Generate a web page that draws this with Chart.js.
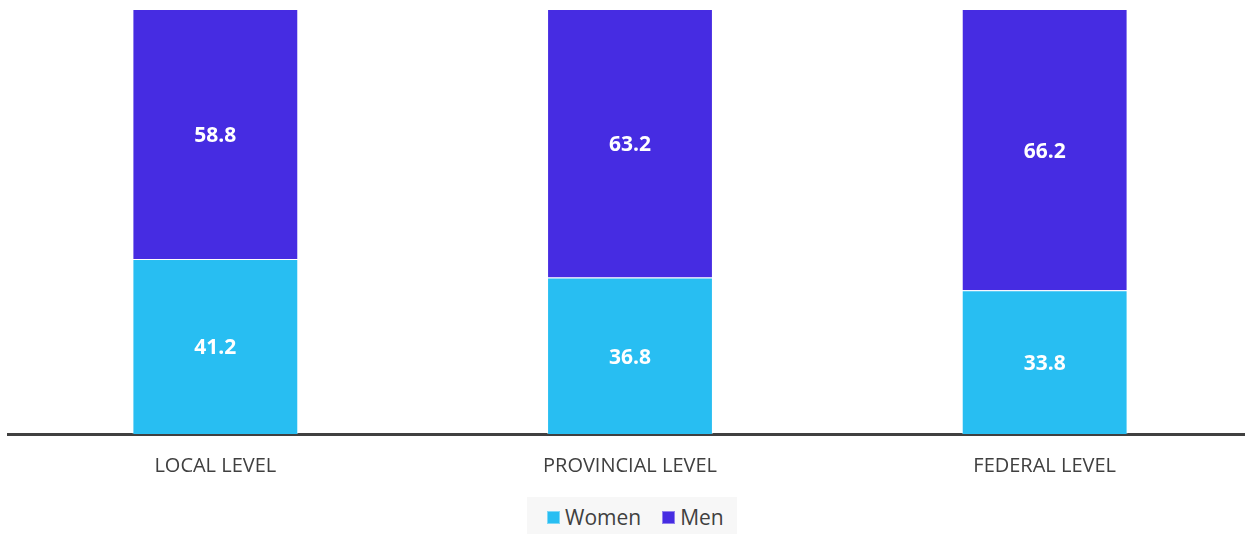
<!DOCTYPE html>
<html>
<head>
<meta charset="utf-8">
<script src="https://cdn.jsdelivr.net/npm/chart.js@4.4.0/dist/chart.umd.min.js"></script>
<style>
  html, body { margin: 0; padding: 0; background: #fff; overflow: hidden; }
  #wrap { position: relative; width: 1252px; height: 534px; }
  #legend {
    position: absolute; left: 527px; top: 497px; width: 210px; height: 37px;
    background: #f7f7f7; display: flex; align-items: center; padding: 3px 0 0 20px;
    box-sizing: border-box; font-family: "Open Sans", sans-serif; font-size: 21px; color: #404040;
  }
  #legend .sw { width: 13px; height: 13px; margin-right: 5px; box-sizing: border-box; border: 1px solid rgba(255,255,255,0.4); }
  #legend .item { display: flex; align-items: center; margin-right: 21px; }
</style>
</head>
<body>
<div id="wrap"><canvas id="myChart"></canvas><div id="legend"></div></div>
<script>
const categories = ['LOCAL LEVEL', 'PROVINCIAL LEVEL', 'FEDERAL LEVEL'];
const women = [41.2, 36.8, 33.8];
const men = [58.8, 63.2, 66.2];
const seriesNames = ['Women', 'Men'];
const seriesColors = ['#28BEF2', '#462CE2'];

// draws the value in the middle of every bar segment
const valueLabels = {
    id: 'valueLabels',
    afterDatasetsDraw(chart) {
        const ctx = chart.ctx;
        ctx.save();
        ctx.fillStyle = '#ffffff';
        ctx.font = 'bold 21px "Open Sans"';
        ctx.textAlign = 'center';
        ctx.textBaseline = 'middle';
        chart.data.datasets.forEach((ds, i) => {
            chart.getDatasetMeta(i).data.forEach((bar, j) => {
                const mid = (bar.y + bar.base) / 2;
                ctx.fillText(ds.data[j].toFixed(1), bar.x, mid + 2);
            });
        });
        ctx.restore();
    }
};

const ctx = document.getElementById('myChart').getContext('2d');
const chart = new Chart(ctx, {
    type: 'bar',
    data: {
        labels: categories,
        datasets: [{
            label: seriesNames[0],
            data: women,
            backgroundColor: seriesColors[0],
            borderColor: 'rgba(255,255,255,0.45)',
            borderWidth: 1
        }, {
            label: seriesNames[1],
            data: men,
            backgroundColor: seriesColors[1],
            borderColor: 'rgba(255,255,255,0.45)',
            borderWidth: 1
        }]
    },
    options: {
        responsive: true,
        maintainAspectRatio: false,
        animation: false,
        layout: { padding: { top: 9, left: 8, right: 0, bottom: 44 } },
        barPercentage: 0.4,
        categoryPercentage: 1,
        scales: {
            x: {
                stacked: true,
                grid: { display: false },
                border: { display: true, color: '#404040', width: 3 },
                ticks: {
                    color: '#404040',
                    font: { family: '"Open Sans"', size: 20 },
                    padding: 12
                }
            },
            y: {
                stacked: true,
                display: false,
                min: 0,
                max: 100
            }
        },
        plugins: {
            legend: { display: false },
            tooltip: { enabled: false }
        }
    },
    plugins: [valueLabels]
});

// legend built from the dataset names and colours
const legend = document.getElementById('legend');
chart.data.datasets.forEach(ds => {
    const item = document.createElement('div');
    item.className = 'item';
    item.innerHTML = '<span class="sw" style="background:' + ds.backgroundColor + '"></span><span>' + ds.label + '</span>';
    legend.appendChild(item);
});
</script>
</body>
</html>
